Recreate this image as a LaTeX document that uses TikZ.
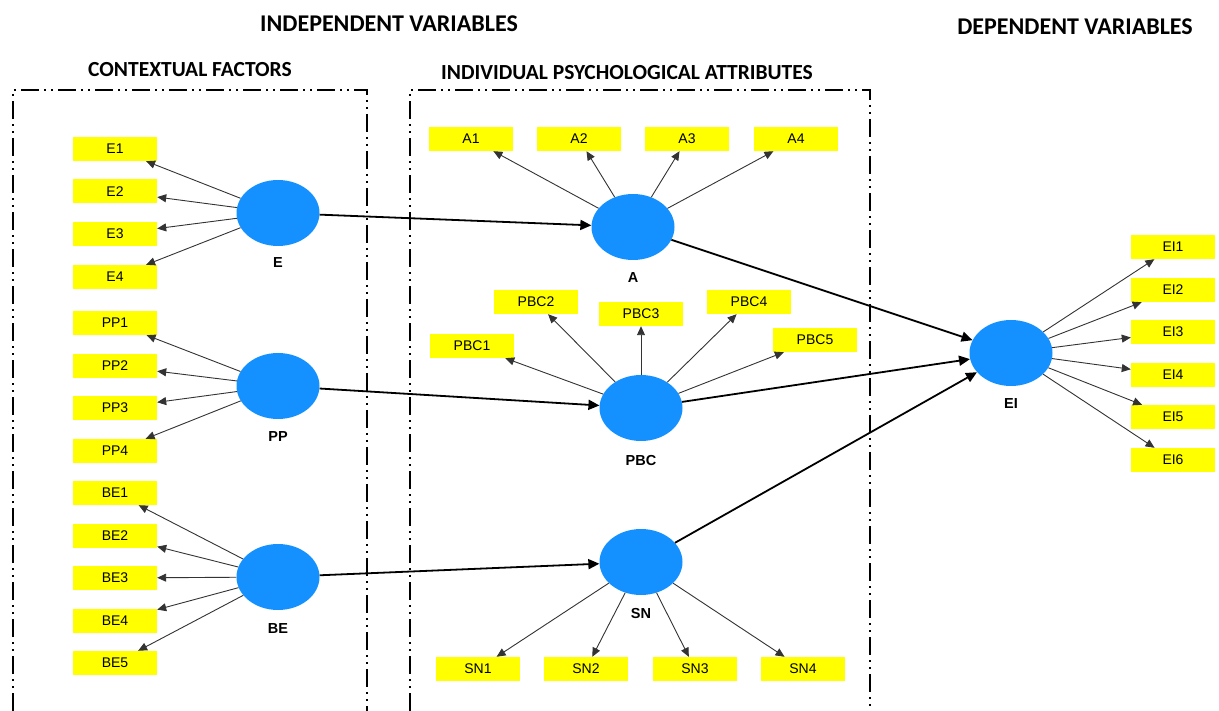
\documentclass[tikz,border=0pt]{standalone}
\usepackage{fontspec}
\setmainfont{Liberation Sans}
\newfontfamily\titlefont{Carlito}
\usetikzlibrary{arrows.meta,shapes.geometric}
\definecolor{latblue}{RGB}{20,145,255}
\definecolor{indyel}{RGB}{255,255,0}
\tikzset{
  ind/.style={fill=indyel,minimum width=84pt,minimum height=24pt,inner sep=0pt,font=\fontsize{14}{16}\selectfont},
  lat/.style={ellipse,fill=latblue,minimum width=83pt,minimum height=66pt,inner sep=0pt},
  latlab/.style={font=\fontsize{14.5}{16}\selectfont\bfseries},
  load/.style={draw=black!80,line width=0.9pt,-{Triangle[length=9pt,width=8pt]}},
  path/.style={draw=black,line width=1.8pt,-{Triangle[length=11pt,width=10pt]}},
  ttl/.style={font=\titlefont\fontsize{24}{26}\selectfont\bfseries},
  subttl/.style={font=\titlefont\fontsize{21.5}{23}\selectfont\bfseries},
  frame/.style={line width=2pt,dash pattern=on 18pt off 5pt on 2pt off 5pt on 2pt off 5pt}
}
\begin{document}
\begin{tikzpicture}[x=1pt,y=-1pt]
\useasboundingbox (0,0) rectangle (1219,711);
% titles
\node[ttl] (t1) at (389,24) {INDEPENDENT VARIABLES};
\node[ttl] (t2) at (1075,27) {DEPENDENT VARIABLES};
\node[subttl] (t3) at (190,70) {CONTEXTUAL FACTORS};
\node[subttl] (t4) at (627,73) {INDIVIDUAL PSYCHOLOGICAL ATTRIBUTES};
% frames
\coordinate (f1a) at (13,711); \coordinate (f1b) at (13,90);
\coordinate (f1c) at (367,90); \coordinate (f1d) at (367,711);
\draw[frame] (f1a) -- (f1b) -- (f1c) -- (f1d);
\coordinate (f2a) at (410,711); \coordinate (f2b) at (410,90);
\coordinate (f2c) at (870,90); \coordinate (f2d) at (870,711);
\draw[frame] (f2a) -- (f2b) -- (f2c) -- (f2d);
% latent variables
\node[lat] (E) at (278,213) {};
\node[lat] (PP) at (278,386) {};
\node[lat] (BE) at (278,577) {};
\node[lat] (A) at (633,227) {};
\node[lat] (PBC) at (641,408) {};
\node[lat] (SN) at (641,562) {};
\node[lat] (EI) at (1011,353) {};
\node[latlab] (lE) at (278,263) {E};
\node[latlab] (lPP) at (278,437) {PP};
\node[latlab] (lBE) at (278,629) {BE};
\node[latlab] (lA) at (633,278) {A};
\node[latlab] (lPBC) at (641,461) {PBC};
\node[latlab] (lSN) at (641,614) {SN};
\node[latlab] (lEI) at (1011,404) {EI};
% indicators
\node[ind] (E1) at (115,149) {E1};
\node[ind] (E2) at (115,191.5) {E2};
\node[ind] (E3) at (115,234) {E3};
\node[ind] (E4) at (115,277) {E4};
\node[ind] (PP1) at (115,323) {PP1};
\node[ind] (PP2) at (115,366) {PP2};
\node[ind] (PP3) at (115,408) {PP3};
\node[ind] (PP4) at (115,451) {PP4};
\node[ind] (BE1) at (115,493) {BE1};
\node[ind] (BE2) at (115,536) {BE2};
\node[ind] (BE3) at (115,578) {BE3};
\node[ind] (BE4) at (115,621) {BE4};
\node[ind] (BE5) at (115,663) {BE5};
\node[ind] (A1) at (471,139) {A1};
\node[ind] (A2) at (579,139) {A2};
\node[ind] (A3) at (687,139) {A3};
\node[ind] (A4) at (796,139) {A4};
\node[ind] (PBC1) at (472,346) {PBC1};
\node[ind] (PBC2) at (536,302) {PBC2};
\node[ind] (PBC3) at (641,314) {PBC3};
\node[ind] (PBC4) at (749,302) {PBC4};
\node[ind] (PBC5) at (815,340) {PBC5};
\node[ind] (SN1) at (478,669) {SN1};
\node[ind] (SN2) at (586,669) {SN2};
\node[ind] (SN3) at (695,669) {SN3};
\node[ind] (SN4) at (803,669) {SN4};
\node[ind] (EI1) at (1173,247) {EI1};
\node[ind] (EI2) at (1173,290) {EI2};
\node[ind] (EI3) at (1173,332) {EI3};
\node[ind] (EI4) at (1173,375) {EI4};
\node[ind] (EI5) at (1173,417) {EI5};
\node[ind] (EI6) at (1173,460) {EI6};
% loadings
\foreach \i in {1,...,4} \draw[load] (E) -- (E\i);
\foreach \i in {1,...,4} \draw[load] (PP) -- (PP\i);
\foreach \i in {1,...,5} \draw[load] (BE) -- (BE\i);
\foreach \i in {1,...,4} \draw[load] (A) -- (A\i);
\foreach \i in {1,...,5} \draw[load] (PBC) -- (PBC\i);
\foreach \i in {1,...,4} \draw[load] (SN) -- (SN\i);
\foreach \i in {1,...,6} \draw[load] (EI) -- (EI\i);
% structural paths
\draw[path] (E) -- (A);
\draw[path] (PP) -- (PBC);
\draw[path] (BE) -- (SN);
\draw[path] (A) -- (EI);
\draw[path] (PBC) -- (EI);
\draw[path] (SN) -- (EI);
\end{tikzpicture}
\end{document}
